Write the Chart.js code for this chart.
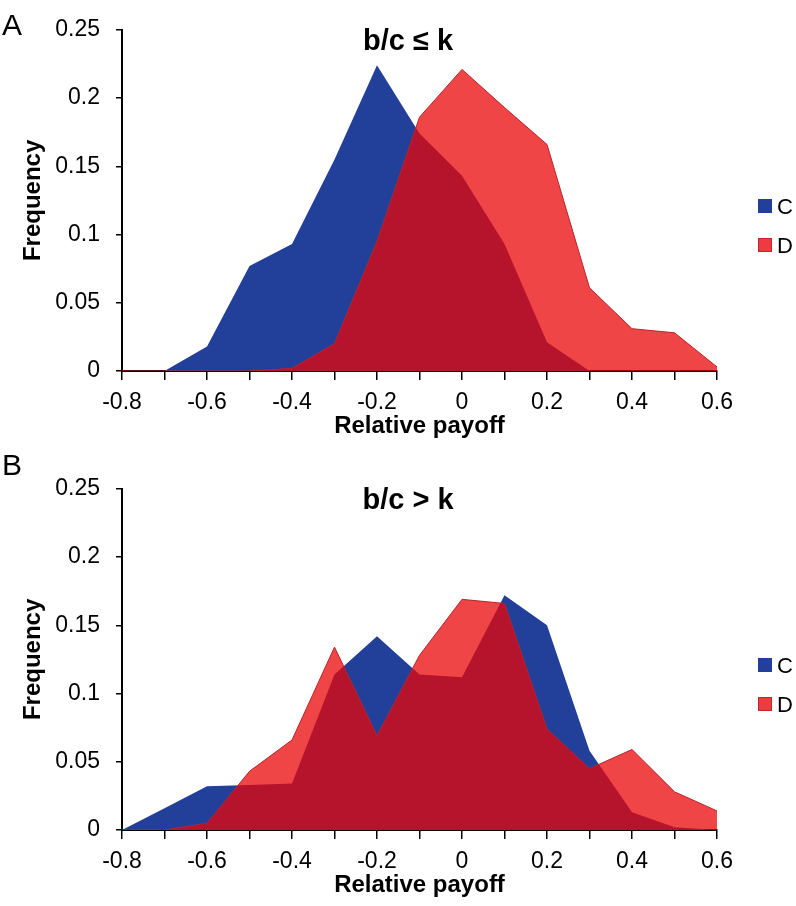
<!DOCTYPE html>
<html>
<head>
<meta charset="utf-8">
<script src="https://cdn.jsdelivr.net/npm/chart.js@4.4.1/dist/chart.umd.min.js"></script>
<style>
  html, body { margin: 0; padding: 0; background: #fff; width: 796px; height: 906px; overflow: hidden; }
  body { position: relative; font-family: "Liberation Sans", Arial, sans-serif; color: #000; }
  .panel { position: absolute; left: 0; width: 796px; height: 453px; }
  .panel canvas { position: absolute; left: 0; top: 0; }
  .letter { position: absolute; left: 2px; font-size: 30px; line-height: 1; }
  .ttl { position: absolute; left: 408px; top: 40px; transform: translate(-50%, -50%); font-size: 29px; font-weight: bold; line-height: 1; white-space: nowrap; }
  .leg { position: absolute; left: 758px; font-size: 22px; line-height: 1; }
  .leg span.sw { display: inline-block; width: 14px; height: 14px; margin-right: 5px; vertical-align: 1px; box-sizing: border-box; }
</style>
</head>
<body>
<div class="panel" style="top:0">
  <canvas id="chartA" width="796" height="453"></canvas>
  <div class="letter" style="top:10px">A</div>
  <div class="ttl">b/c ≤ k</div>
  <div class="leg" style="top:196px"><span class="sw" style="background:#22409A"></span>C</div>
  <div class="leg" style="top:235px"><span class="sw" style="background:#EE3B3F;border:1px solid #C1272D"></span>D</div>
</div>
<div class="panel" style="top:459px">
  <canvas id="chartB" width="796" height="453"></canvas>
  <div class="letter" style="top:-9px">B</div>
  <div class="ttl">b/c &gt; k</div>
  <div class="leg" style="top:196px"><span class="sw" style="background:#22409A"></span>C</div>
  <div class="leg" style="top:235px"><span class="sw" style="background:#EE3B3F;border:1px solid #C1272D"></span>D</div>
</div>
<script>
// relative payoff bins
const payoff = [-0.8, -0.7, -0.6, -0.5, -0.4, -0.3, -0.2, -0.1, 0, 0.1, 0.2, 0.3, 0.4, 0.5, 0.6];

// panel A: b/c <= k
const freqA_C = [0, 0, 0.018, 0.077, 0.093, 0.155, 0.224, 0.174, 0.143, 0.093, 0.021, 0, 0, 0, 0];
const freqA_D = [0, 0, 0, 0, 0.002, 0.020, 0.095, 0.186, 0.221, 0.193, 0.166, 0.061, 0.031, 0.028, 0.003];

// panel B: b/c > k
const freqB_C = [0, 0.016, 0.032, 0.033, 0.034, 0.114, 0.142, 0.114, 0.112, 0.172, 0.150, 0.058, 0.013, 0.002, 0];
const freqB_D = [0, 0, 0.005, 0.043, 0.066, 0.134, 0.069, 0.128, 0.169, 0.166, 0.074, 0.045, 0.059, 0.028, 0.014];

const FONT = "'Liberation Sans', Arial, sans-serif";

function puntos(valores) {
  return payoff.map((x, i) => ({ x: x, y: valores[i] }));
}

function crearPanel(id, valoresC, valoresD) {
  const canvas = document.getElementById(id);
  return new Chart(canvas, {
    type: 'line',
    data: {
      datasets: [
        {
          label: 'D',
          data: puntos(valoresD),
          backgroundColor: 'rgba(235, 4, 6, 0.74)',
          borderColor: '#B8242B',
          borderWidth: 1,
          fill: 'origin',
          pointRadius: 0,
          tension: 0,
          order: 0
        },
        {
          label: 'C',
          data: puntos(valoresC),
          backgroundColor: '#22409A',
          borderColor: '#22409A',
          borderWidth: 0,
          fill: 'origin',
          pointRadius: 0,
          tension: 0,
          order: 1
        }
      ]
    },
    options: {
      responsive: false,
      animation: false,
      layout: { padding: { top: 29, right: 79, left: 0, bottom: 0 } },
      plugins: {
        legend: { display: false },
        tooltip: { enabled: false }
      },
      scales: {
        x: {
          type: 'linear',
          min: -0.8,
          max: 0.6,
          z: 1,
          border: { display: true, color: '#000', width: 2 },
          grid: { drawOnChartArea: false, drawTicks: true, tickLength: 9, color: '#000', lineWidth: 1.5 },
          ticks: {
            stepSize: 0.1,
            autoSkip: false,
            maxRotation: 0,
            padding: 9,
            color: '#000',
            font: { family: FONT, size: 23 },
            callback: (v) => (Math.round(v * 10) % 2 === 0 ? String(Number(v.toFixed(1))) : '')
          },
          title: {
            display: true,
            text: 'Relative payoff',
            color: '#000',
            font: { family: FONT, size: 24, weight: 'bold' },
            padding: { top: 0, bottom: 12 }
          },
          afterFit: (s) => { s.height = 82; }
        },
        y: {
          min: 0,
          max: 0.25,
          z: 1,
          border: { display: true, color: '#000', width: 2 },
          grid: { drawOnChartArea: false, drawTicks: true, tickLength: 6, color: '#000', lineWidth: 1.5 },
          ticks: {
            stepSize: 0.05,
            padding: 16,
            color: '#000',
            font: { family: FONT, size: 23 },
            callback: (v) => String(Number(v.toFixed(2)))
          },
          title: {
            display: true,
            text: 'Frequency',
            color: '#000',
            font: { family: FONT, size: 24, weight: 'bold' },
            padding: { top: 19, bottom: 0 }
          },
          afterFit: (s) => { s.width = 122; }
        }
      }
    }
  });
}

crearPanel('chartA', freqA_C, freqA_D);
crearPanel('chartB', freqB_C, freqB_D);
</script>
</body>
</html>
